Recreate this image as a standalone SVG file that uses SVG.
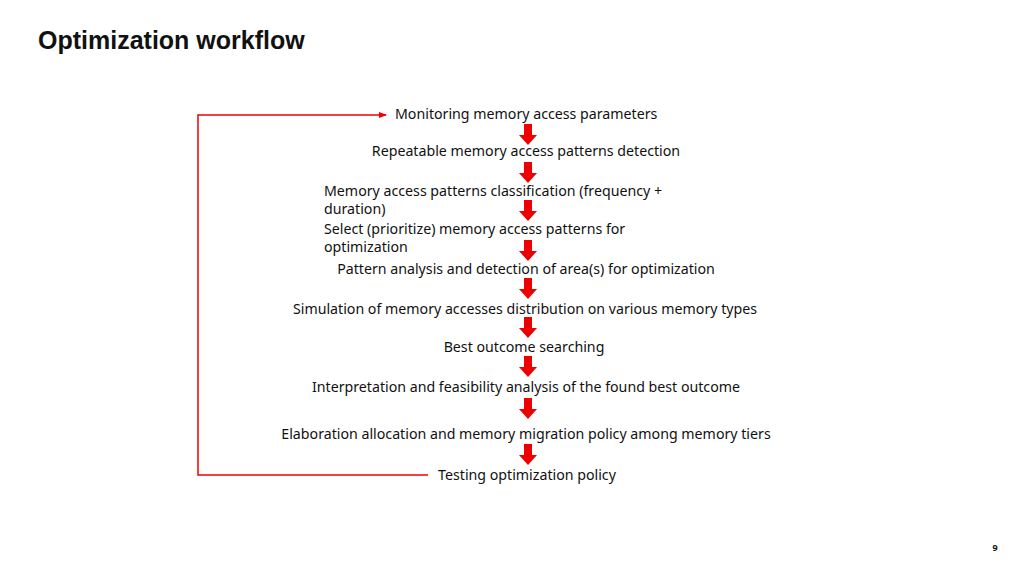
<svg xmlns="http://www.w3.org/2000/svg" width="1024" height="576" viewBox="0 0 1024 576">
<style>
text{font-family:"Noto Sans","Liberation Sans",sans-serif;font-size:14.2px;fill:#111}
.c{text-anchor:middle}
.ba{fill:#ee0000}
</style>
<defs>
<marker id="ah" markerWidth="8" markerHeight="8" refX="7" refY="4" orient="auto" markerUnits="userSpaceOnUse"><path d="M0,1 L8,4 L0,7Z" fill="#e00"/></marker>
<path id="blk" d="M-4,0 H4 V11 H9 L0,21 L-9,11 H-4Z"/>
</defs>
<rect width="1024" height="576" fill="#fff"/>
<text x="38" y="49" style="font-family:'Liberation Sans',Arial,sans-serif;font-weight:bold;font-size:25px">Optimization workflow</text>
<g id="connectors">
<polyline points="428,475 198,475 198,115 386,115" fill="none" stroke="#e00" stroke-width="1.5" marker-end="url(#ah)"/>
<use href="#blk" class="ba" x="528" y="124"/>
<use href="#blk" class="ba" x="528" y="162"/>
<use href="#blk" class="ba" x="528" y="200"/>
<use href="#blk" class="ba" x="528" y="240"/>
<use href="#blk" class="ba" x="528" y="278"/>
<use href="#blk" class="ba" x="528" y="317"/>
<use href="#blk" class="ba" x="528" y="356"/>
<use href="#blk" class="ba" x="528" y="398"/>
<use href="#blk" class="ba" x="528" y="444"/>
</g>
<g id="n1"><text x="395" y="119">Monitoring memory access parameters</text></g>
<g id="n2"><text x="526" y="156" class="c">Repeatable memory access patterns detection</text></g>
<g id="n3"><text x="324" y="196">Memory access patterns classification (frequency +</text><text x="324" y="214">duration)</text></g>
<g id="n4"><text x="324" y="234">Select (prioritize) memory access patterns for</text><text x="324" y="252">optimization</text></g>
<g id="n5"><text x="526" y="274" class="c">Pattern analysis and detection of area(s) for optimization</text></g>
<g id="n6"><text x="525" y="314" class="c">Simulation of memory accesses distribution on various memory types</text></g>
<g id="n7"><text x="524" y="352" class="c">Best outcome searching</text></g>
<g id="n8"><text x="526" y="392" class="c">Interpretation and feasibility analysis of the found best outcome</text></g>
<g id="n9"><text x="526" y="439" class="c">Elaboration allocation and memory migration policy among memory tiers</text></g>
<g id="n10"><text x="527" y="480" class="c">Testing optimization policy</text></g>
<text x="995" y="551" class="c" style="font-size:9px;font-weight:bold">9</text>
</svg>
